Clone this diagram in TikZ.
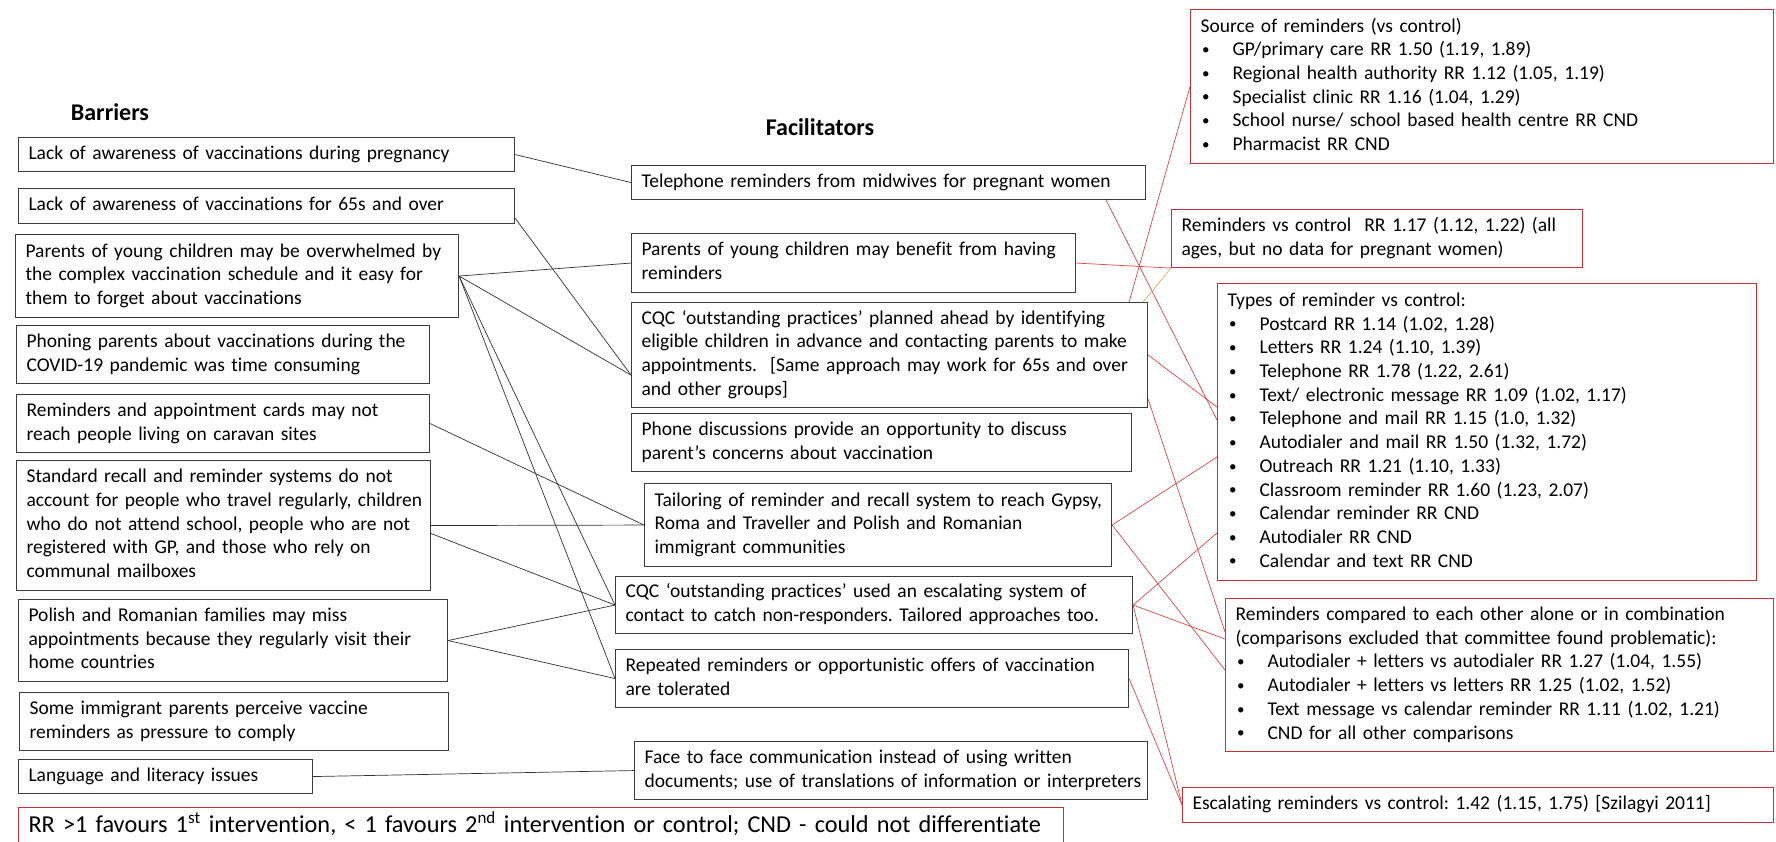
\documentclass[tikz,border=0pt]{standalone}
\usepackage{fontspec}
\setmainfont{Carlito}[Ligatures={NoCommon}]
\usetikzlibrary{calc}
\definecolor{boxgray}{RGB}{60,60,60}
\definecolor{boxred}{RGB}{205,45,55}
\definecolor{linered}{RGB}{222,70,70}
\definecolor{lineorange}{RGB}{232,165,95}
\definecolor{linegray}{RGB}{50,50,50}
\newcommand\tl[1]{\begin{tabular}{@{}l@{}}#1\end{tabular}}
\newcommand\bu{\makebox[32pt][l]{\hspace{1.5pt}\raisebox{1.2pt}{\fontsize{15}{15}\selectfont •}}}
\frenchspacing
\begin{document}
\begin{tikzpicture}[x=1pt,y=-1pt,
  txt/.style={font=\fontsize{19.5}{23.7}\selectfont, inner xsep=10pt, inner ysep=3pt, align=left, anchor=north west},
  bbox/.style={txt, draw=boxgray, line width=1.1pt},
  rbox/.style={txt, draw=boxred, line width=1.1pt},
  title/.style={font=\fontsize{24}{28}\selectfont\bfseries, anchor=center, inner sep=0pt},
  bl/.style={draw=linegray, line width=0.7pt},
  rl/.style={draw=linered, line width=0.7pt},
  ol/.style={draw=lineorange, line width=0.7pt},
]
\useasboundingbox (0,0) rectangle (1776,842);
\fill[white] (0,0) rectangle (1776,842);

% titles
\node[title] (tb) at (110,112) {Barriers};
\node[title] (tf) at (820,127) {Facilitators};

% barriers
\node[bbox, text width=476pt, minimum height=34pt] (B1) at (18,137) {\tl{Lack of awareness of vaccinations during pregnancy}};
\node[bbox, text width=476pt, minimum height=35pt] (B2) at (18,188) {\tl{Lack of awareness of vaccinations for 65s and over}};
\node[bbox, text width=423pt, minimum height=83pt] (B3) at (15,234) {\tl{Parents of young children may be overwhelmed by\\the complex vaccination schedule and it easy for\\them to forget about vaccinations}};
\node[bbox, text width=393pt, minimum height=58pt] (B4) at (16,325) {\tl{Phoning parents about vaccinations during the\\COVID-19 pandemic was time consuming}};
\node[bbox, text width=393pt, minimum height=58pt] (B5) at (16,394) {\tl{Reminders and appointment cards may not\\reach people living on caravan sites}};
\node[bbox, text width=394pt, minimum height=130pt] (B6) at (16,460) {\tl{Standard recall and reminder systems do not\\account for people who travel regularly, children\\who do not attend school, people who are not\\registered with GP, and those who rely on\\communal mailboxes}};
\node[bbox, text width=409pt, minimum height=82pt] (B7) at (18,599) {\tl{Polish and Romanian families may miss\\appointments because they regularly visit their\\home countries}};
\node[bbox, text width=409pt, minimum height=58pt] (B8) at (19,692) {\tl{Some immigrant parents perceive vaccine\\reminders as pressure to comply}};
\node[bbox, text width=274pt, minimum height=34pt] (B9) at (18,759) {\tl{Language and literacy issues}};

% facilitators
\node[bbox, text width=494pt, minimum height=34pt] (F1) at (631,165) {\tl{Telephone reminders from midwives for pregnant women}};
\node[bbox, text width=424pt, minimum height=59pt] (F2) at (631,233) {\tl{Parents of young children may benefit from having\\reminders}};
\node[bbox, text width=496pt, minimum height=105pt] (F3) at (631,302) {\tl{CQC ‘outstanding practices’ planned ahead by identifying\\eligible children in advance and contacting parents to make\\appointments.\ \ [Same approach may work for 65s and over\\and other groups]}};
\node[bbox, text width=480pt, minimum height=58pt] (F4) at (631,413) {\tl{Phone discussions provide an opportunity to discuss\\parent’s concerns about vaccination}};
\node[bbox, text width=447pt, minimum height=83pt] (F5) at (644,483) {\tl{Tailoring of reminder and recall system to reach Gypsy,\\Roma and Traveller and Polish and Romanian\\immigrant communities}};
\node[bbox, text width=497pt, minimum height=57pt] (F6) at (615,576) {\tl{CQC ‘outstanding practices’ used an escalating system of\\contact to catch non-responders. Tailored approaches too.}};
\node[bbox, text width=493pt, minimum height=58pt] (F7) at (615,649) {\tl{Repeated reminders or opportunistic offers of vaccination\\are tolerated}};
\node[bbox, text width=493pt, minimum height=58pt] (F8) at (634,741) {\tl{Face to face communication instead of using written\\documents; use of translations of information or interpreters}};

% evidence boxes
\node[rbox, text width=563pt, minimum height=154pt] (R1) at (1190,9) {\tl{Source of reminders (vs control)\\\bu GP/primary care RR 1.50 (1.19, 1.89)\\\bu Regional health authority RR 1.12 (1.05, 1.19)\\\bu Specialist clinic RR 1.16 (1.04, 1.29)\\\bu School nurse/ school based health centre RR CND\\\bu Pharmacist RR CND}};
\node[rbox, text width=391pt, minimum height=58pt] (R2) at (1171,209) {\tl{Reminders vs control\ \ RR 1.17 (1.12, 1.22) (all\\ages, but no data for pregnant women)}};
\node[rbox, text width=519pt, minimum height=297pt] (R3) at (1217,283) {\tl{Types of reminder vs control:\\\bu Postcard RR 1.14 (1.02, 1.28)\\\bu Letters RR 1.24 (1.10, 1.39)\\\bu Telephone RR 1.78 (1.22, 2.61)\\\bu Text/ electronic message RR 1.09 (1.02, 1.17)\\\bu Telephone and mail RR 1.15 (1.0, 1.32)\\\bu Autodialer and mail RR 1.50 (1.32, 1.72)\\\bu Outreach RR 1.21 (1.10, 1.33)\\\bu Classroom reminder RR 1.60 (1.23, 2.07)\\\bu Calendar reminder RR CND\\\bu Autodialer RR CND\\\bu Calendar and text RR CND}};
\node[rbox, text width=528pt, minimum height=153pt] (R4) at (1225,598) {\tl{Reminders compared to each other alone or in combination\\(comparisons excluded that committee found problematic):\\\bu Autodialer + letters vs autodialer RR 1.27 (1.04, 1.55)\\\bu Autodialer + letters vs letters RR 1.25 (1.02, 1.52)\\\bu Text message vs calendar reminder RR 1.11 (1.02, 1.21)\\\bu CND for all other comparisons}};
\node[rbox, text width=571pt, minimum height=35pt] (R5) at (1182,787) {\tl{Escalating reminders vs control: 1.42 (1.15, 1.75) [Szilagyi 2011]}};

\node[rbox, text width=1025pt, minimum height=37pt, font=\fontsize{24.3}{28}\selectfont] (BR) at (18,807) {\tl{RR >1 favours 1\textsuperscript{st} intervention, < 1 favours 2\textsuperscript{nd} intervention or control; CND - could not differentiate}};

% barrier -> facilitator links
\draw[bl] (B1.east) -- (F1.west);
\draw[bl] ([yshift=6pt]B2.south east) -- ([yshift=-20pt]F3.west);
\draw[bl] (B3.east) -- (F2.west);
\draw[bl] (B3.east) -- ([yshift=-20pt]F3.west);
\draw[bl] (B3.east) -- (F6.west);
\draw[bl] (B3.east) -- (F7.west);
\draw[bl] (B5.east) -- (F5.west);
\draw[bl] (B6.east) -- (F5.west);
\draw[bl] ([yshift=-8pt]B6.east) -- (F6.west);
\draw[bl] (B7.east) -- (F6.west);
\draw[bl] (B7.east) -- (F7.west);
\draw[bl] (B9.east) -- (F8.west);

% facilitator -> evidence links
\draw[rl] (R1.west) -- ([xshift=-19pt]F3.north east);
\draw[rl] ([xshift=-40pt]F1.south east) -- ([yshift=-137pt]R3.north west);
\draw[rl] (F2.east) -- (R2.south west);
\draw[ol] ([xshift=-5pt]F3.north east) -- (R2.south west);
\draw[rl] (F3.east) -- ([yshift=-124pt]R3.north west);
\draw[rl] ([yshift=9pt]F3.south east) -- ([yshift=-34pt]R4.north west);
\draw[rl] (F5.east) -- ([yshift=-174pt]R3.north west);
\draw[rl] (F5.east) -- ([yshift=-72pt]R4.north west);
\draw[rl] (F6.east) -- ([yshift=-250pt]R3.north west);
\draw[rl] (F6.east) -- ([yshift=-41pt]R4.north west);
\draw[rl] (F6.east) -- (R5.west);
\draw[rl] (F7.east) -- (R5.west);
\end{tikzpicture}
\end{document}
